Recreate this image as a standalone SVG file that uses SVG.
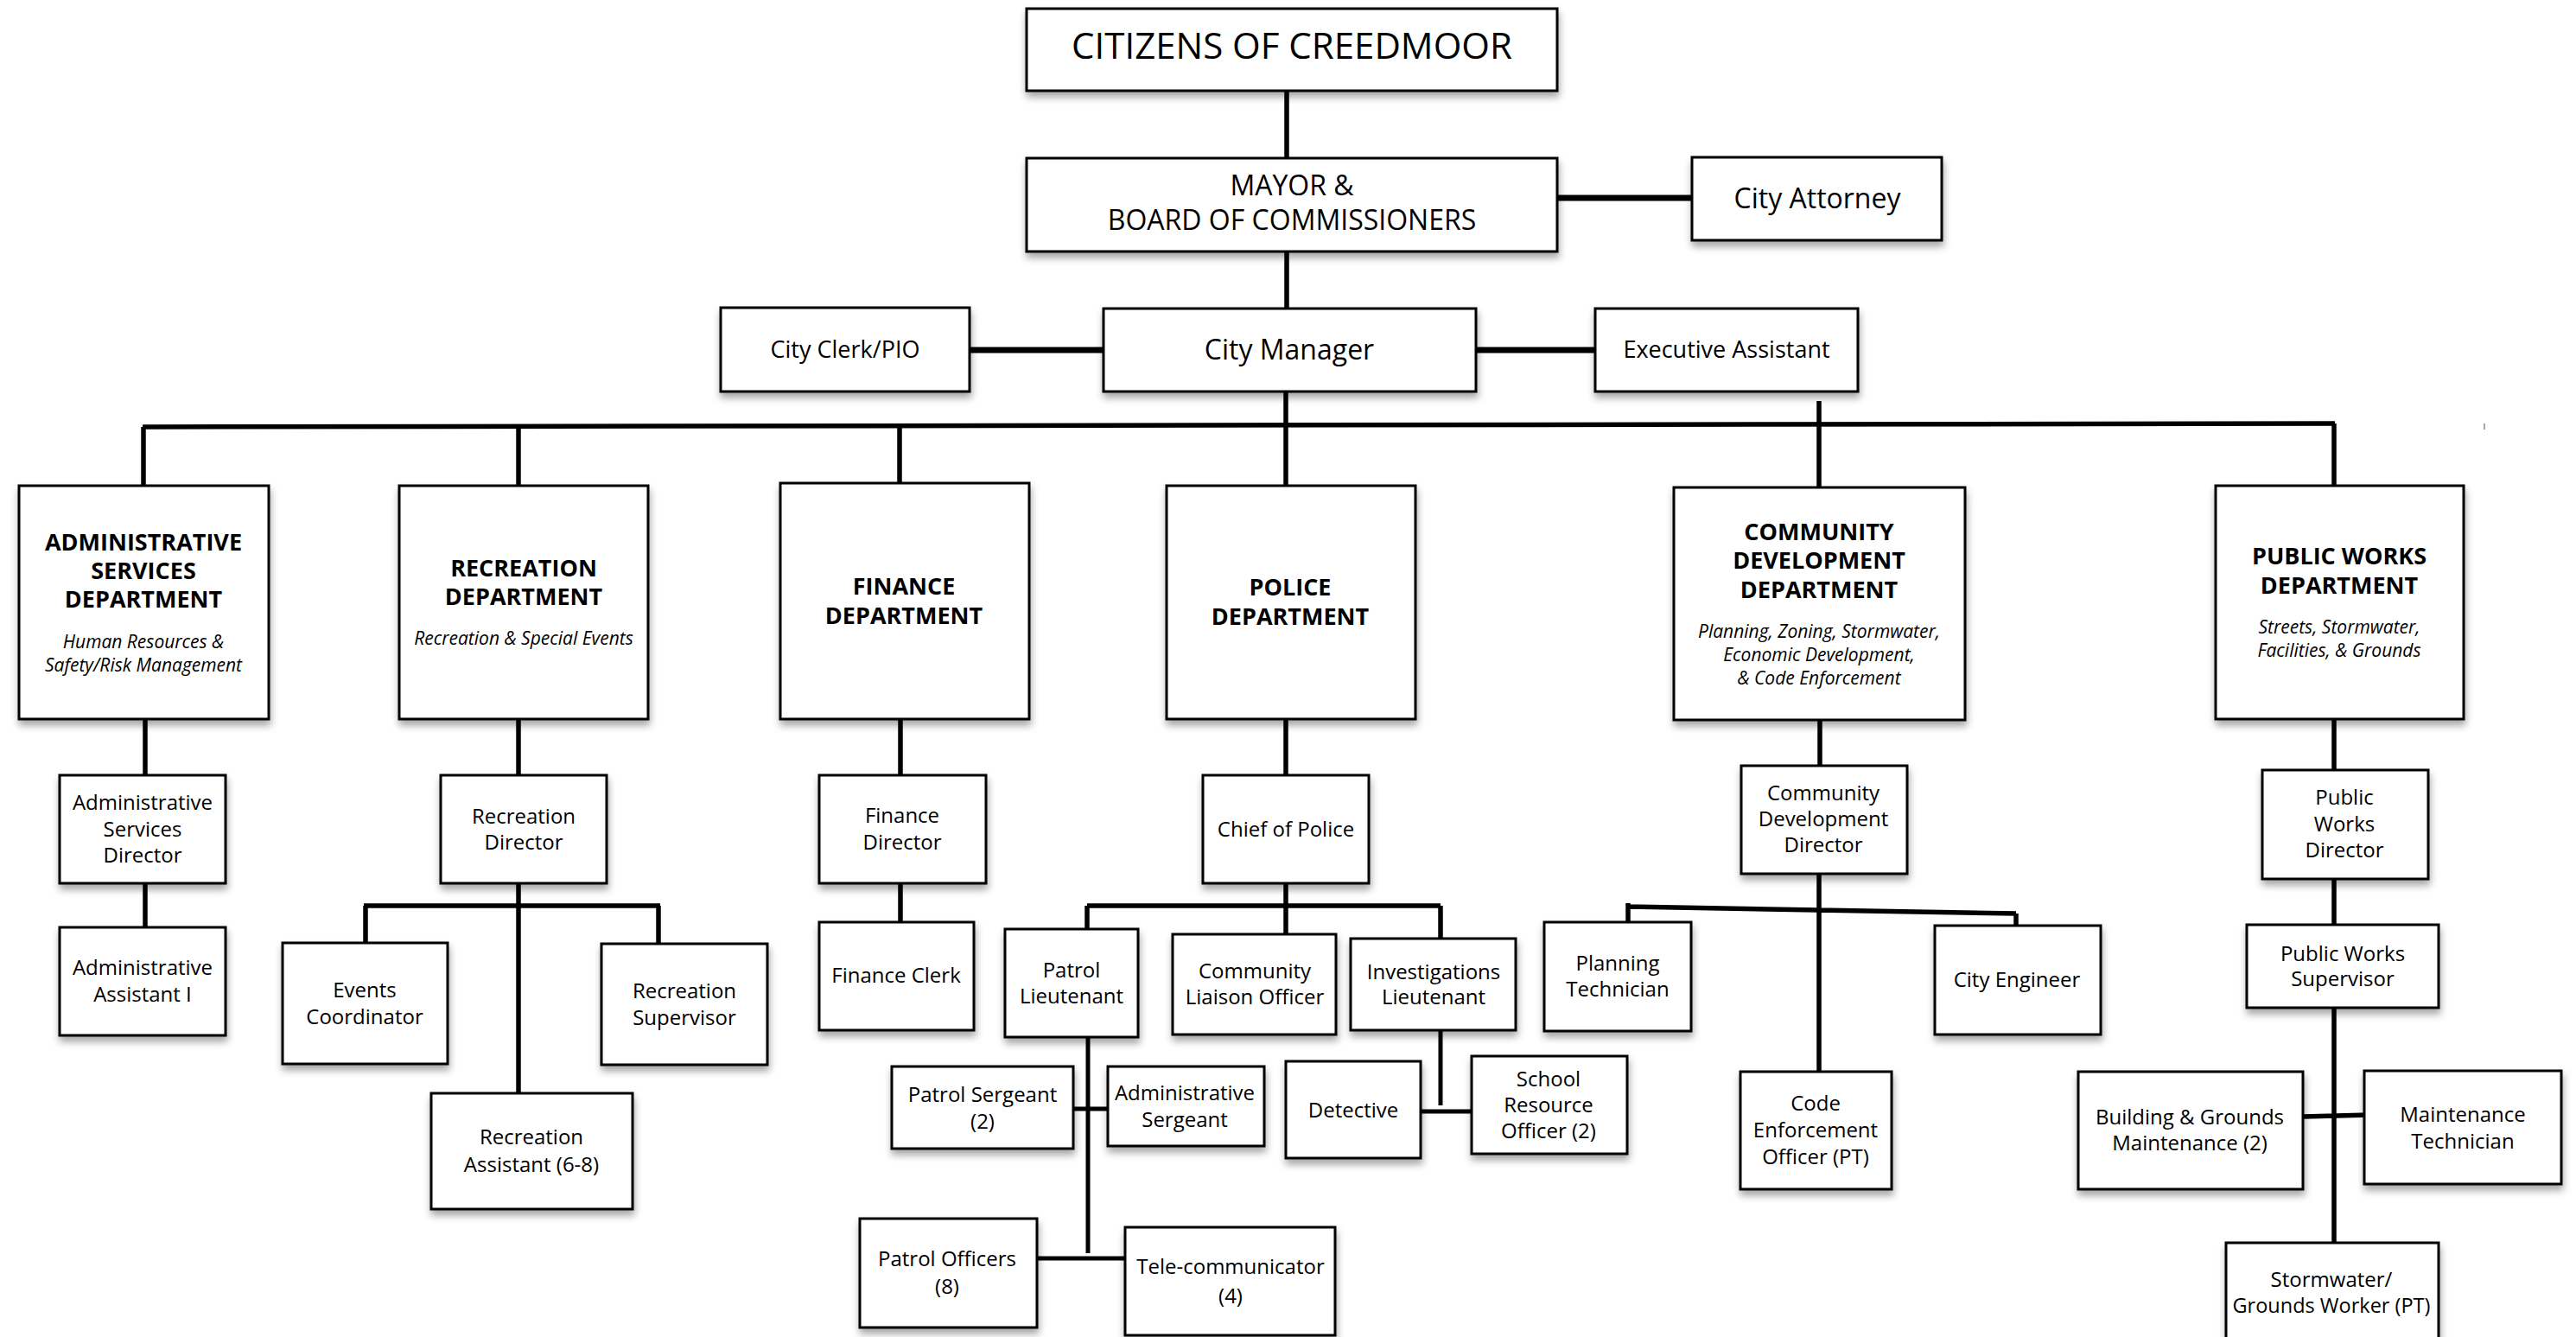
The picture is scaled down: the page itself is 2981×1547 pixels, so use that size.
<svg xmlns="http://www.w3.org/2000/svg" width="2981" height="1547" viewBox="0 0 2981 1547">
<defs>
<filter id="sh" x="-10%" y="-10%" width="125%" height="130%">
<feDropShadow dx="1" dy="6" stdDeviation="4" flood-color="#000" flood-opacity="0.35"/>
</filter>
<style>
.b{fill:#fff;stroke:#000;stroke-width:3;filter:url(#sh)}
.t{font-family:"Open Sans","Noto Sans",sans-serif;fill:#000;text-anchor:middle}
.s{font-size:24px}
.m{font-size:27px}
.l{font-size:32px}
.h{font-size:27px;font-weight:bold}
.i{font-size:21px;font-style:italic}
.c{stroke:#000;stroke-width:5.5;fill:none;stroke-linecap:butt}
</style>
</defs>
<rect width="2981" height="1547" fill="#fff"/>
<g id="connectors">
<path class="c" d="M1489 105V183M1489 291V357M1488 453V494"/>
<path class="c" style="stroke-width:7" d="M1802 229H1958M1122 405H1277M1708 405H1846"/>
<path class="c" d="M165 494L2702 490"/>
<path class="c" d="M2105 464V564M166 494V562M600 494V562M1041 494V559M1488 494V562M2701 490V562"/>
<path d="M2875 490V497" stroke="#888" stroke-width="1.5"/>
<path class="c" d="M168 832V897M168 1022V1072"/>
<path class="c" d="M600 832V897M600 1022V1265M421 1048H764M423 1048V1091M762 1048V1092"/>
<path class="c" d="M1042 832V897M1042 1022V1067"/>
<path class="c" d="M1488 832V897M1488 1022V1081M1258 1048H1667M1258 1048V1075M1667 1048V1086"/>
<path class="c" style="stroke-width:5" d="M1259 1200V1450M1242 1283H1282M1200 1456H1302"/>
<path class="c" style="stroke-width:5" d="M1667 1192V1279M1644 1286H1703"/>
<path class="c" d="M2106 833V886M2105 1011V1240M1884 1049L2333 1057M1884 1045V1067M2333 1057V1071"/>
<path class="c" d="M2701 832V891M2701 1017V1070M2701 1166V1438M2665 1292L2742 1290"/>
</g>
<g id="citizens"><rect class="b" x="1188" y="10" width="614" height="95"/><text class="t" style="font-size:42px" x="1495" y="68">CITIZENS OF CREEDMOOR</text></g>
<g id="mayor"><rect class="b" x="1188" y="183" width="614" height="108"/><text class="t l" x="1495" y="226">MAYOR &amp;</text><text class="t l" x="1495" y="266">BOARD OF COMMISSIONERS</text></g>
<g id="attorney"><rect class="b" x="1958" y="182" width="289" height="96"/><text class="t l" x="2103" y="241">City Attorney</text></g>
<g id="manager"><rect class="b" x="1277" y="357" width="431" height="96"/><text class="t l" x="1492" y="416">City Manager</text></g>
<g id="clerk"><rect class="b" x="834" y="356" width="288" height="97"/><text class="t m" x="978" y="414">City Clerk/PIO</text></g>
<g id="exec"><rect class="b" x="1846" y="357" width="304" height="96"/><text class="t m" x="1998" y="414">Executive Assistant</text></g>

<g id="dept-admin"><rect class="b" x="22" y="562" width="289" height="270"/>
<text class="t h" x="166" y="637">ADMINISTRATIVE</text><text class="t h" x="166" y="670">SERVICES</text><text class="t h" x="166" y="703">DEPARTMENT</text>
<text class="t i" x="166" y="750">Human Resources &amp;</text><text class="t i" x="166" y="777">Safety/Risk Management</text></g>
<g id="dept-rec"><rect class="b" x="462" y="562" width="288" height="270"/>
<text class="t h" x="606" y="667">RECREATION</text><text class="t h" x="606" y="700">DEPARTMENT</text>
<text class="t i" x="606" y="746">Recreation &amp; Special Events</text></g>
<g id="dept-fin"><rect class="b" x="903" y="559" width="288" height="273"/>
<text class="t h" x="1046" y="688">FINANCE</text><text class="t h" x="1046" y="722">DEPARTMENT</text></g>
<g id="dept-police"><rect class="b" x="1350" y="562" width="288" height="270"/>
<text class="t h" x="1493" y="689">POLICE</text><text class="t h" x="1493" y="723">DEPARTMENT</text></g>
<g id="dept-cd"><rect class="b" x="1937" y="564" width="337" height="269"/>
<text class="t h" x="2105" y="625">COMMUNITY</text><text class="t h" x="2105" y="658">DEVELOPMENT</text><text class="t h" x="2105" y="692">DEPARTMENT</text>
<text class="t i" x="2105" y="738">Planning, Zoning, Stormwater,</text><text class="t i" x="2105" y="765">Economic Development,</text><text class="t i" x="2105" y="792">&amp; Code Enforcement</text></g>
<g id="dept-pw"><rect class="b" x="2564" y="562" width="287" height="270"/>
<text class="t h" x="2707" y="653">PUBLIC WORKS</text><text class="t h" x="2707" y="687">DEPARTMENT</text>
<text class="t i" x="2707" y="733">Streets, Stormwater,</text><text class="t i" x="2707" y="760">Facilities, &amp; Grounds</text></g>

<g id="asd"><rect class="b" x="69" y="897" width="192" height="125"/><text class="t s" x="165" y="937">Administrative</text><text class="t s" x="165" y="968">Services</text><text class="t s" x="165" y="998">Director</text></g>
<g id="aa1"><rect class="b" x="69" y="1073" width="192" height="125"/><text class="t s" x="165" y="1128">Administrative</text><text class="t s" x="165" y="1159">Assistant I</text></g>
<g id="recdir"><rect class="b" x="510" y="897" width="192" height="125"/><text class="t s" x="606" y="953">Recreation</text><text class="t s" x="606" y="983">Director</text></g>
<g id="events"><rect class="b" x="327" y="1091" width="191" height="140"/><text class="t s" x="422" y="1154">Events</text><text class="t s" x="422" y="1185">Coordinator</text></g>
<g id="recsup"><rect class="b" x="696" y="1092" width="192" height="140"/><text class="t s" x="792" y="1155">Recreation</text><text class="t s" x="792" y="1186">Supervisor</text></g>
<g id="recasst"><rect class="b" x="499" y="1265" width="233" height="134"/><text class="t s" x="615" y="1324">Recreation</text><text class="t s" x="615" y="1356">Assistant (6-8)</text></g>
<g id="findir"><rect class="b" x="948" y="897" width="193" height="125"/><text class="t s" x="1044" y="952">Finance</text><text class="t s" x="1044" y="983">Director</text></g>
<g id="finclerk"><rect class="b" x="948" y="1067" width="179" height="125"/><text class="t s" x="1037" y="1137">Finance Clerk</text></g>
<g id="chief"><rect class="b" x="1392" y="897" width="192" height="125"/><text class="t s" x="1488" y="968">Chief of Police</text></g>
<g id="patlt"><rect class="b" x="1163" y="1075" width="154" height="125"/><text class="t s" x="1240" y="1131">Patrol</text><text class="t s" x="1240" y="1161">Lieutenant</text></g>
<g id="clo"><rect class="b" x="1357" y="1081" width="189" height="116"/><text class="t s" x="1452" y="1132">Community</text><text class="t s" x="1452" y="1162">Liaison Officer</text></g>
<g id="invlt"><rect class="b" x="1563" y="1086" width="191" height="106"/><text class="t s" x="1659" y="1133">Investigations</text><text class="t s" x="1659" y="1162">Lieutenant</text></g>
<g id="patsgt"><rect class="b" x="1032" y="1234" width="210" height="95"/><text class="t s" x="1137" y="1275">Patrol Sergeant</text><text class="t s" x="1137" y="1306">(2)</text></g>
<g id="admsgt"><rect class="b" x="1282" y="1234" width="181" height="92"/><text class="t s" x="1371" y="1273">Administrative</text><text class="t s" x="1371" y="1304">Sergeant</text></g>
<g id="patoff"><rect class="b" x="995" y="1410" width="205" height="126"/><text class="t s" x="1096" y="1465">Patrol Officers</text><text class="t s" x="1096" y="1497">(8)</text></g>
<g id="tele"><rect class="b" x="1302" y="1420" width="243" height="125"/><text class="t s" x="1424" y="1474">Tele-communicator</text><text class="t s" x="1424" y="1508">(4)</text></g>
<g id="detective"><rect class="b" x="1488" y="1228" width="156" height="112"/><text class="t s" x="1566" y="1293">Detective</text></g>
<g id="sro"><rect class="b" x="1703" y="1222" width="180" height="113"/><text class="t s" x="1792" y="1257">School</text><text class="t s" x="1792" y="1287">Resource</text><text class="t s" x="1792" y="1317">Officer (2)</text></g>
<g id="cddir"><rect class="b" x="2015" y="886" width="192" height="125"/><text class="t s" x="2110" y="926">Community</text><text class="t s" x="2110" y="956">Development</text><text class="t s" x="2110" y="986">Director</text></g>
<g id="plantech"><rect class="b" x="1787" y="1067" width="170" height="126"/><text class="t s" x="1872" y="1123">Planning</text><text class="t s" x="1872" y="1153">Technician</text></g>
<g id="cityeng"><rect class="b" x="2239" y="1071" width="192" height="126"/><text class="t s" x="2334" y="1142">City Engineer</text></g>
<g id="codeenf"><rect class="b" x="2014" y="1240" width="175" height="136"/><text class="t s" x="2101" y="1285">Code</text><text class="t s" x="2101" y="1316">Enforcement</text><text class="t s" x="2101" y="1347">Officer (PT)</text></g>
<g id="pwdir"><rect class="b" x="2618" y="891" width="192" height="126"/><text class="t s" x="2713" y="931">Public</text><text class="t s" x="2713" y="962">Works</text><text class="t s" x="2713" y="992">Director</text></g>
<g id="pwsup"><rect class="b" x="2600" y="1070" width="222" height="96"/><text class="t s" x="2711" y="1112">Public Works</text><text class="t s" x="2711" y="1141">Supervisor</text></g>
<g id="bgm"><rect class="b" x="2405" y="1240" width="260" height="136"/><text class="t s" x="2534" y="1301">Building &amp; Grounds</text><text class="t s" x="2534" y="1331">Maintenance (2)</text></g>
<g id="mainttech"><rect class="b" x="2736" y="1239" width="228" height="131"/><text class="t s" x="2850" y="1298">Maintenance</text><text class="t s" x="2850" y="1329">Technician</text></g>
<g id="storm"><rect class="b" x="2576" y="1438" width="246" height="116"/><text class="t s" x="2698" y="1489">Stormwater/</text><text class="t" style="font-size:23.5px" x="2698" y="1519">Grounds Worker (PT)</text></g>
</svg>
